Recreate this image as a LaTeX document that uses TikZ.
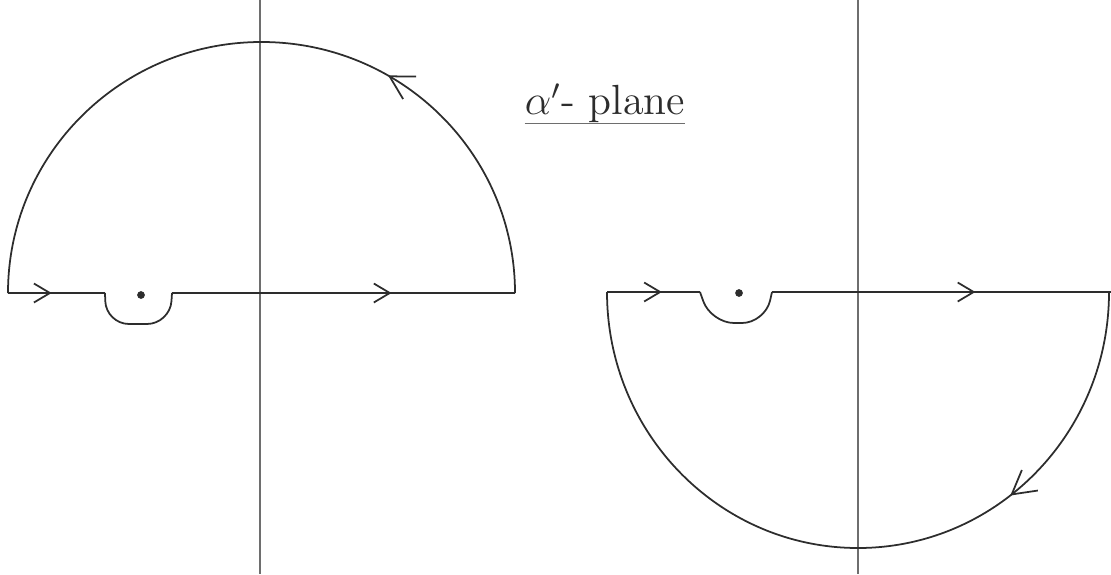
\documentclass[tikz,border=0pt]{standalone}
\usepackage{amsmath}
\usetikzlibrary{arrows.meta,decorations.markings,calc}
\definecolor{pencil}{RGB}{45,45,45}
\definecolor{axisGray}{RGB}{110,110,110}
\tikzset{
  axis line/.style={draw=axisGray,line width=0.35pt},
  contour line/.style={draw=pencil,line width=0.5pt},
  mid arrow/.style={postaction={decorate},decoration={markings,mark=at position #1 with {\arrow{Straight Barb[length=1.6mm,width=1.9mm]}}}},
  arc arrow/.style={postaction={decorate},decoration={markings,mark=at position #1 with {\arrow{Straight Barb[length=2.3mm,width=2.6mm]}}}},
  pole/.style={circle,fill=pencil,inner sep=0pt,minimum size=2.2pt},
  plane label/.style={font=\large,text=pencil,inner sep=1pt}
}
\begin{document}
\begin{tikzpicture}[x=0.1mm,y=-0.1mm]
        \useasboundingbox (0,0) rectangle (1111,574);
        % upper half plane contour
        \coordinate (uOrig) at (260,293);
        \coordinate (uLeft) at (8,293);
        \coordinate (uIndA) at (105,293);
        \coordinate (uIndB) at (172,293);
        \coordinate (uRight) at (515,293);
        \draw[axis line] (260,0) -- (260,574);
        \node[pole] (uPole) at (141,295) {};
        \draw[contour line,mid arrow=0.45] (uLeft) -- (uIndA);
        \draw[contour line,rounded corners=2.3mm] (uIndA) -- (106,324) -- (170,324) -- (uIndB);
        \draw[contour line,mid arrow=0.64] (uIndB) -- (uRight);
        \draw[contour line,arc arrow=0.333] (uRight) arc[start angle=0,end angle=-180,x radius=253.5,y radius=251];
        % lower half plane contour
        \coordinate (lOrig) at (858,292);
        \coordinate (lLeft) at (607,292);
        \coordinate (lIndA) at (700,292);
        \coordinate (lIndB) at (772,292);
        \coordinate (lRight) at (1111,292);
        \coordinate (lArcR) at (1109,292);
        \draw[axis line] (858,0) -- (858,574);
        \node[pole] (lPole) at (739,293) {};
        \draw[contour line,mid arrow=0.59] (lLeft) -- (lIndA);
        \draw[contour line,rounded corners=2.3mm] (lIndA) -- (711,323) -- (765,323) -- (lIndB);
        \draw[contour line,mid arrow=0.6] (lIndB) -- (lRight);
        \draw[contour line,arc arrow=0.294] (lArcR) arc[start angle=0,end angle=180,x radius=251,y radius=256];
        % label
        \node[plane label] (planeName) at (605,103) {$\alpha'$- plane};
        \draw[axis line] ($(planeName.south west)+(4,-3)$) -- ($(planeName.south east)+(-4,-3)$);
      \end{tikzpicture}
\end{document}
